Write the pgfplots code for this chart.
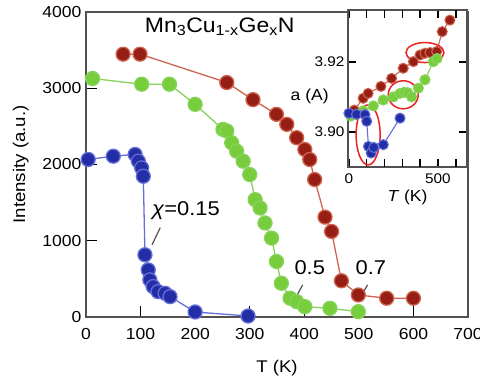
\documentclass[border=0pt]{standalone}
\usepackage{fontspec}
\setmainfont{Liberation Sans}[FakeStretch=1.1]
\usepackage{pgfplots}
\pgfplotsset{compat=1.18}
\definecolor{rmark}{RGB}{150,30,20}
\definecolor{rline}{RGB}{205,100,80}
\definecolor{gmark}{RGB}{120,205,60}
\definecolor{gline}{RGB}{135,210,90}
\definecolor{bmark}{RGB}{35,45,165}
\definecolor{bline}{RGB}{100,110,215}
\definecolor{axgray}{RGB}{85,80,80}
\definecolor{ellred}{RGB}{235,35,35}
\begin{document}
\begin{tikzpicture}
\useasboundingbox (0,0) rectangle (480bp,376bp);
\begin{axis}[
  at={(86bp,59bp)}, anchor=south west, scale only axis,
  width=382bp, height=305bp,
  xmin=0, xmax=700, ymin=0, ymax=4000,
  xtick={0,100,...,700}, ytick={0,1000,...,4000},
  tick align=inside, xtick pos=bottom, ytick pos=left,
  major tick length=11bp,
  axis line style={line width=2pt, draw=axgray},
  tick style={line width=1.5pt, black},
  ticklabel style={font=\fontsize{16}{19}\selectfont},
  xticklabel style={yshift=-8bp},
  yticklabel style={xshift=-1bp},
  /pgf/number format/assume math mode=true,
  /pgf/number format/1000 sep={},
  xlabel={T (K)}, ylabel={Intensity (a.u.)},
  label style={font=\fontsize{17}{20}\selectfont},
  xlabel style={yshift=-14bp},
  ylabel style={yshift=7bp},
  clip=false,
]
\addplot[color=rline, line width=1.3pt, mark=*, mark size=7bp, mark options={draw=none, fill=rmark}] coordinates {
(68,3447) (99,3447) (258,3075) (306,2850) (349,2658) (368,2526) (386,2351) (401,2197) (410,2066) (419,1803) (438,1310) (450,1122) (468,475) (499,289) (551,246) (600,246)};
\addplot[color=gline, line width=1.3pt, mark=*, mark size=7bp, mark options={draw=none, fill=gmark}] coordinates {
(12,3128) (102,3053) (153,3053) (200,2789) (251,2460) (258,2440) (267,2285) (276,2175) (288,2043) (300,1868) (310,1539) (319,1430) (328,1233) (340,1035) (349,728) (358,443) (374,246) (386,201) (401,136) (447,114) (499,70)};
\addplot[color=bline, line width=1.3pt, mark=*, mark size=7bp, mark options={draw=none, fill=bmark}] coordinates {
(4,2066) (50,2109) (90,2132) (96,2044) (102,1956) (105,1846) (108,816) (114,618) (117,487) (123,399) (132,333) (145,311) (154,267) (200,66) (297,13)};
\node[font=\fontsize{21}{25}\selectfont] at (axis cs:245,3803) {Mn\textsubscript{3}Cu\textsubscript{1-x}Ge\textsubscript{x}N};
\node[font=\fontsize{20}{24}\selectfont] at (axis cs:183,1395) {\textit{χ}=0.15};
\node[font=\fontsize{20}{24}\selectfont] at (axis cs:410,645) {0.5};
\node[font=\fontsize{20}{24}\selectfont] at (axis cs:522,645) {0.7};
\node[font=\fontsize{16}{19}\selectfont] at (axis cs:410,2895) {a (A)};
\draw[axgray, line width=1.2pt] (axis cs:136,1171) -- (axis cs:121,947);
\draw[axgray, line width=1.2pt] (axis cs:397,421) -- (axis cs:385,263);
\draw[axgray, line width=1.2pt] (axis cs:516,421) -- (axis cs:504,276);
\end{axis}
\begin{axis}[
  at={(348bp,209bp)}, anchor=south west, scale only axis,
  width=119bp, height=157bp,
  xmin=-5, xmax=663, ymin=3.8899, ymax=3.9349,
  axis background/.style={fill=white},
  xtick={0,500}, extra x ticks={100,200,300,400,600}, extra x tick labels={},
  ytick={3.90,3.92}, yticklabels={3.90,3.92},
  tick align=inside, major tick length=8bp,
  axis line style={line width=1.8pt, draw=axgray},
  tick style={line width=1.5pt, black},
  extra x tick style={tick style={line width=1.5pt, black}},
  ticklabel style={font=\fontsize{14}{17}\selectfont},
  xticklabel style={yshift=-3bp},
  /pgf/number format/assume math mode=true,
  xlabel={\textit{T} (K)},
  xlabel style={font=\fontsize{16}{19}\selectfont, yshift=0bp},
  clip=false,
]
\addplot[color=rline, line width=1.1pt, mark=*, mark size=5bp, mark options={draw=none, fill=rmark}] coordinates {
(30,3.9062) (80,3.9096) (108,3.9110) (180,3.9130) (240,3.9153) (305,3.9182) (362,3.9201) (399,3.9220) (427,3.9225) (455,3.9227) (493,3.9230) (524,3.9287) (567,3.9320)};
\addplot[color=gline, line width=1.1pt, mark=*, mark size=5bp, mark options={draw=none, fill=gmark}] coordinates {
(10,3.9045) (80,3.9060) (137,3.9074) (193,3.9091) (250,3.9100) (287,3.9110) (310,3.9113) (330,3.9112) (352,3.9100) (390,3.9125) (427,3.9149) (474,3.9201) (495,3.9210)};
\addplot[color=bline, line width=1.1pt, mark=*, mark size=5bp, mark options={draw=none, fill=bmark}] coordinates {
(0,3.9053) (43,3.9050) (90,3.9049) (100,3.9030) (110,3.8958) (125,3.8939) (140,3.8955) (193,3.8963) (287,3.9039)};
\draw[ellred, line width=1.5pt] (axis cs:108,3.8991) ellipse [x radius=12bp, y radius=30bp];
\draw[ellred, line width=1.5pt] (axis cs:305,3.9106) ellipse [x radius=15bp, y radius=14bp];
\draw[ellred, line width=1.5pt] (axis cs:427,3.9227) ellipse [x radius=19bp, y radius=10bp];
\end{axis}
\end{tikzpicture}
\end{document}
